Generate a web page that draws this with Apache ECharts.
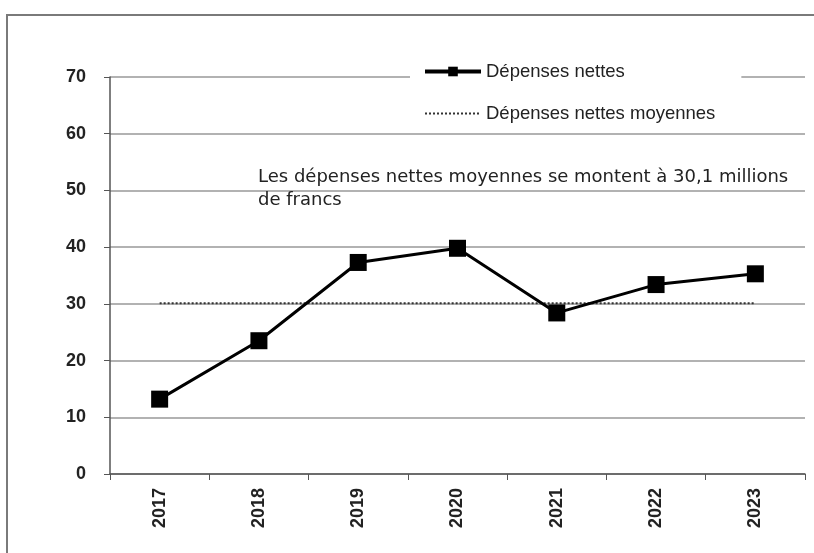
<!DOCTYPE html>
<html>
<head>
<meta charset="utf-8">
<script src="https://cdn.jsdelivr.net/npm/echarts@6/dist/echarts.min.js"></script>
<style>
  html, body { margin: 0; padding: 0; background: #fff; }
  #frame {
    position: absolute; left: 6px; top: 14px; width: 808px; height: 539px;
    border-top: 2px solid #7a7a7a; border-left: 2px solid #7a7a7a;
    box-sizing: border-box;
  }
  #chart { position: absolute; left: 0; top: 0; width: 814px; height: 553px; }
</style>
</head>
<body>
<div id="frame"></div>
<div id="chart"></div>
<script>
var annees = ["2017", "2018", "2019", "2020", "2021", "2022", "2023"];
var depensesNettes = [13.2, 23.5, 37.3, 39.8, 28.4, 33.4, 35.3];
var moyenne = [30.1, 30.1, 30.1, 30.1, 30.1, 30.1, 30.1];
var ticksY = { min: 0, max: 70, interval: 10 };
var note = "Les dépenses nettes moyennes se montent à 30,1 millions\nde francs";

var myChart = echarts.init(document.getElementById("chart"));
myChart.setOption({
  animation: false,
  textStyle: { fontFamily: "Liberation Sans, Arial, sans-serif" },
  grid: { left: 110, right: 9, top: 77, bottom: 79 },
  legend: {
    orient: "vertical",
    left: 410,
    top: 58,
    itemWidth: 56,
    itemHeight: 12,
    itemGap: 23,
    padding: [4, 26, 4, 13],
    backgroundColor: "#fff",
    textStyle: { fontSize: 18.5, color: "#222" },
    data: [
      { name: "Dépenses nettes", lineStyle: { width: 4 } },
      { name: "Dépenses nettes moyennes", itemStyle: { opacity: 0 } }
    ]
  },
  graphic: [
    {
      type: "text",
      left: 258,
      top: 166,
      z: 10,
      style: {
        text: note,
        fontSize: 18,
        lineHeight: 23,
        fill: "#222",
        fontFamily: "DejaVu Sans, sans-serif"
      }
    }
  ],
  xAxis: {
    type: "category",
    data: annees,
    boundaryGap: true,
    axisLine: { lineStyle: { color: "#555", width: 1.5 } },
    axisTick: { show: true, length: 6, lineStyle: { color: "#555" } },
    axisLabel: {
      rotate: 90,
      margin: 14,
      fontSize: 18,
      fontWeight: "bold",
      color: "#222"
    }
  },
  yAxis: {
    type: "value",
    min: ticksY.min,
    max: ticksY.max,
    interval: ticksY.interval,
    axisLine: { show: true, lineStyle: { color: "#555", width: 1.5 } },
    axisTick: { show: true, length: 6, lineStyle: { color: "#555" } },
    axisLabel: { margin: 24, fontSize: 18, fontWeight: "bold", color: "#222" },
    splitLine: { lineStyle: { color: "#999", width: 1.5 } }
  },
  series: [
    {
      name: "Dépenses nettes moyennes",
      type: "line",
      data: moyenne,
      symbol: "none",
      lineStyle: { color: "#333", width: 2, type: [2, 2] },
      itemStyle: { color: "#333" },
      z: 2
    },
    {
      name: "Dépenses nettes",
      type: "line",
      data: depensesNettes,
      symbol: "rect",
      symbolSize: 17,
      lineStyle: { color: "#000", width: 3 },
      itemStyle: { color: "#000" },
      z: 3
    }
  ]
});
</script>
</body>
</html>
